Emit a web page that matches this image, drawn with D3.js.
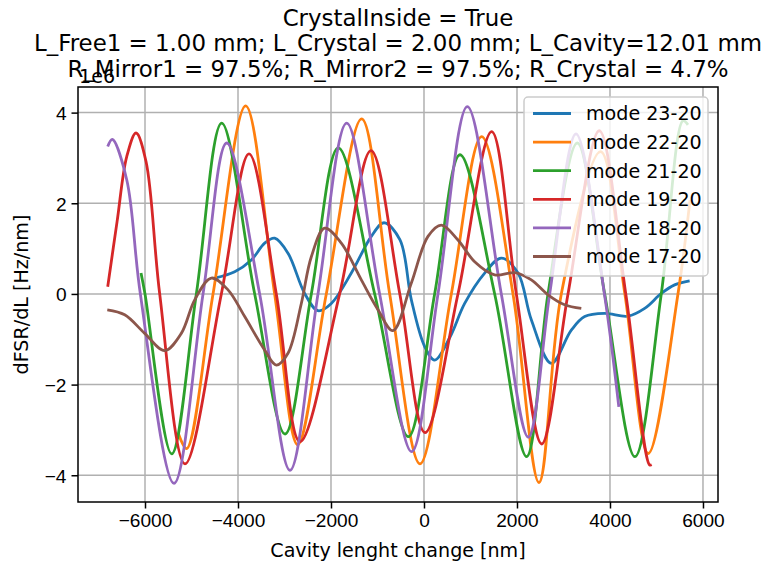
<!DOCTYPE html>
<html>
<head>
<meta charset="utf-8">
<script src="https://cdn.jsdelivr.net/npm/d3@7"></script>
<style>
  body { margin: 0; background: #fff; }
  svg { font-family: "DejaVu Sans", sans-serif; }
</style>
</head>
<body>
<svg id="chart" width="764" height="568"></svg>
<script>
"use strict";

// values, x in nm, y in units of 1e6 Hz/nm
const mode23 = [
  [-4501, 0.35], [-4071, 0.49], [-3713, 0.75], [-3426, 1.12], [-3211, 1.23],
  [-2925, 0.9], [-2566, 0.01], [-2280, -0.37], [-1993, -0.21], [-1563, 0.46],
  [-1133, 1.27], [-860, 1.57], [-516, 1.19], [-272, -0.13], [14, -1.16],
  [229, -1.46], [560, -0.95], [875, -0.21], [1305, 0.46], [1663, 0.79],
  [2022, 0.46], [2308, -0.57], [2738, -1.53], [3168, -0.8], [3456, -0.5],
  [3886, -0.43], [4387, -0.49], [4746, -0.32], [5103, 0.01], [5390, 0.2],
  [5713, 0.29],
];
const mode22 = [
  [-5283, -3.08], [-5104, -3.41], [-4537, 0], [-3835, 4.15], [-3212, 0],
  [-2717, -3.33], [-2101, 0], [-1340, 3.86], [-738, 0], [-86, -3.75],
  [588, 0], [1240, 3.47], [1914, 0], [2473, -4.16], [2953, 0],
  [3799, 3.14], [4320, 0], [4824, -3.52], [5462, 0], [5720, 2.07],
];
const mode21 = [
  [-6086, 0.46], [-6000, 0], [-5426, -3.53], [-4896, 0], [-4351, 3.77],
  [-3641, 0], [-2989, -3.09], [-2423, 0], [-1843, 3.22], [-1061, 0],
  [-337, -3.15], [229, 0], [774, 3.07], [1520, 0], [2208, -3.59],
  [2667, 0], [3298, 3.33], [3886, 0], [4538, -3.59], [5103, 0],
  [5570, 3.82], [5677, 3.73],
];
const mode19 = [
  [-6802, 0.16], [-6600, 1.6], [-6393, 3.03], [-6193, 3.55], [-5978, 2.92],
  [-5684, 0], [-5140, -3.75], [-4358, 0], [-3763, 3.09], [-3176, 0],
  [-2667, -3.26], [-1814, 0], [-1140, 3.16], [-520, 0], [22, -3.06],
  [731, 0], [1455, 3.58], [1986, 0], [2531, -3.31], [3097, 0],
  [3770, 3.6], [4340, 0], [4850, -3.77], [4897, -3.77],
];
const mode18 = [
  [-6802, 3.25], [-6703, 3.41], [-6393, 2.52], [-6100, 0], [-5376, -4.18],
  [-4752, 0], [-4243, 3.33], [-3534, 0], [-2882, -3.89], [-2280, 0],
  [-1663, 3.77], [-954, 0], [-265, -3.48], [301, 0], [932, 4.13],
  [1663, 0], [2244, -3.16], [2703, 0], [3269, 3.53], [3880, 0],
  [4190, -2.49],
];
const mode17 = [
  [-6811, -0.35], [-6437, -0.46], [-6007, -0.87], [-5577, -1.25], [-5219, -0.87],
  [-4931, -0.13], [-4573, 0.35], [-4215, 0.09], [-3856, -0.5], [-3426, -1.24],
  [-3176, -1.57], [-2925, -1.31], [-2638, -0.21], [-2423, 0.82], [-2136, 1.45],
  [-1778, 1.12], [-1348, 0.31], [-989, -0.35], [-667, -0.81], [-272, 0.24],
  [86, 1.27], [373, 1.52], [731, 1.19], [1090, 0.71], [1520, 0.42],
  [1950, 0.47], [2308, 0.31], [2667, -0.02], [3025, -0.24], [3383, -0.32],
];

const seriesNames = ["mode 23-20", "mode 22-20", "mode 21-20", "mode 19-20", "mode 18-20", "mode 17-20"];
const seriesData = [mode23, mode22, mode21, mode19, mode18, mode17];
const colors = ["#1f77b4", "#ff7f0e", "#2ca02c", "#d62728", "#9467bd", "#8c564b"];

const xTicks = [-6000, -4000, -2000, 0, 2000, 4000, 6000];
const yTicks = [-4, -2, 0, 2, 4];

const titleLines = [
  "CrystalInside = True",
  "L_Free1 = 1.00 mm; L_Crystal = 2.00 mm; L_Cavity=12.01 mm",
  "R_Mirror1 = 97.5%; R_Mirror2 = 97.5%; R_Crystal = 4.7%",
];

const svg = d3.select("#chart");
const axLeft = 78, axRight = 718, axTop = 87, axBottom = 502;
const fontSize = "19.1px";

const x = d3.scaleLinear().domain([-7441, 6323]).range([axLeft, axRight]);
const y = d3.scaleLinear().domain([-4.59, 4.565]).range([axBottom, axTop]);

// grid
svg.append("g")
  .selectAll("line")
  .data(xTicks)
  .enter()
  .append("line")
  .attr("x1", (d) => x(d))
  .attr("x2", (d) => x(d))
  .attr("y1", axTop)
  .attr("y2", axBottom)
  .attr("stroke", "#b0b0b0")
  .attr("stroke-width", 1.5);

svg.append("g")
  .selectAll("line")
  .data(yTicks)
  .enter()
  .append("line")
  .attr("x1", axLeft)
  .attr("x2", axRight)
  .attr("y1", (d) => y(d))
  .attr("y2", (d) => y(d))
  .attr("stroke", "#b0b0b0")
  .attr("stroke-width", 1.5);

// series
const line = d3
  .line()
  .x((d) => x(d[0]))
  .y((d) => y(d[1]))
  .curve(d3.curveCatmullRom.alpha(0.5));

svg.append("g")
  .selectAll("path")
  .data(seriesData)
  .enter()
  .append("path")
  .attr("d", (d) => line(d))
  .attr("fill", "none")
  .attr("stroke", (d, i) => colors[i])
  .attr("stroke-width", 2.8)
  .attr("stroke-linejoin", "round");

// axes
const xAxis = d3.axisBottom(x).tickValues(xTicks).tickSize(6.5).tickPadding(5).tickFormat(d3.format("d"));
const yAxis = d3.axisLeft(y).tickValues(yTicks).tickSize(6.5).tickPadding(5).tickFormat(d3.format("d"));

const gx = svg.append("g").attr("transform", `translate(0,${axBottom})`).call(xAxis);
const gy = svg.append("g").attr("transform", `translate(${axLeft},0)`).call(yAxis);

[gx, gy].forEach((g) => {
  g.select(".domain").remove();
  g.selectAll(".tick line").attr("stroke", "#000").attr("stroke-width", 1.5);
  g.selectAll(".tick text").attr("fill", "#000").style("font-size", fontSize);
});
gy.selectAll(".tick text").attr("dy", "0.36em");

svg.append("rect")
  .attr("x", axLeft)
  .attr("y", axTop)
  .attr("width", axRight - axLeft)
  .attr("height", axBottom - axTop)
  .attr("fill", "none")
  .attr("stroke", "#000")
  .attr("stroke-width", 1.5);

// labels
svg.append("text")
  .attr("x", (axLeft + axRight) / 2)
  .attr("y", 557)
  .attr("text-anchor", "middle")
  .style("font-size", fontSize)
  .text("Cavity lenght change [nm]");

svg.append("text")
  .attr("transform", `translate(28,${(axTop + axBottom) / 2}) rotate(-90)`)
  .attr("text-anchor", "middle")
  .style("font-size", fontSize)
  .text("dFSR/dL [Hz/nm]");

// offset text, overlaps the last title line as in the original
svg.append("text")
  .attr("x", axLeft + 1)
  .attr("y", 82.5)
  .style("font-size", fontSize)
  .text("1e6");

svg.append("g")
  .selectAll("text")
  .data(titleLines)
  .enter()
  .append("text")
  .attr("x", (axLeft + axRight) / 2)
  .attr("y", (d, i) => 25.5 + i * 25.7)
  .attr("text-anchor", "middle")
  .style("font-size", "22.9px")
  .text((d) => d);

// legend
const legend = svg.append("g").attr("transform", "translate(524,97)");
legend.append("rect")
  .attr("width", 184)
  .attr("height", 179)
  .attr("rx", 4)
  .attr("fill", "#fff")
  .attr("fill-opacity", 0.8)
  .attr("stroke", "#cccccc")
  .attr("stroke-width", 1.5);

const entry = legend
  .selectAll("g.entry")
  .data(seriesNames)
  .enter()
  .append("g")
  .attr("class", "entry")
  .attr("transform", (d, i) => `translate(0,${16.5 + i * 28.6})`);

entry.append("line")
  .attr("x1", 9)
  .attr("x2", 47)
  .attr("stroke", (d, i) => colors[i])
  .attr("stroke-width", 2.8);

entry.append("text")
  .attr("x", 62)
  .attr("dy", "0.36em")
  .style("font-size", fontSize)
  .text((d) => d);
</script>
</body>
</html>
